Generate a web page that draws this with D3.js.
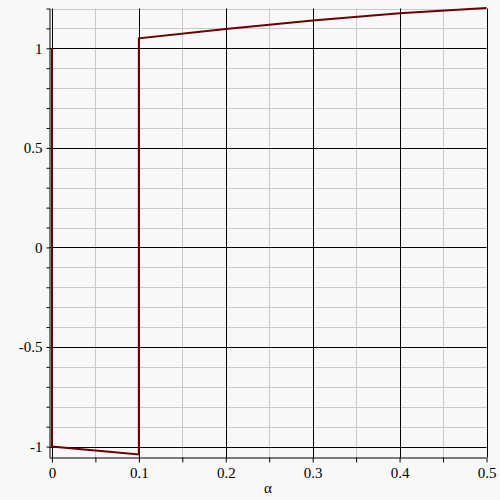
<!DOCTYPE html>
<html>
<head>
<meta charset="utf-8">
<script src="https://cdn.jsdelivr.net/npm/d3@7"></script>
<style>
  body { margin: 0; background: #f8f8f8; }
  svg text { font-family: "Liberation Serif", "Times New Roman", Times, "DejaVu Serif", serif !important; }
</style>
</head>
<body>
<svg id="chart" width="500" height="500"></svg>
<script>
// curve pieces
const alphaVals = [0, 0, 0.05, 0.1, 0.1, 0.2, 0.3, 0.4, 0.5];
const yVals = [1, -1, -1.02, -1.04, 1.05, 1.097, 1.14, 1.176, 1.203];

const xTicks = [0, 0.1, 0.2, 0.3, 0.4, 0.5];
const xTickLabels = ["0", "0.1", "0.2", "0.3", "0.4", "0.5"];
const yTicks = [-1, -0.5, 0, 0.5, 1];
const yTickLabels = ["-1", "-0.5", "0", "0.5", "1"];

const width = 500, height = 500;
const svg = d3.select("#chart");

const x = d3.scaleLinear().domain([-0.0028, 0.5]).range([49.5, 486.5]);
const y = d3.scaleLinear().domain([-1.055, 1.2]).range([457.5, 8.5]);

const x0 = x.range()[0], x1 = x.range()[1];
const yTop = y.range()[1], yBot = y.range()[0];

// minor grid
const xMinor = d3.range(0.05, 0.5, 0.1);
const yMinor = d3.range(-1, 1.21, 0.1).filter(v => Math.abs(Math.round(v * 2) - v * 2) > 1e-6);

svg.append("g").selectAll("line").data(xMinor).join("line")
  .attr("x1", d => Math.round(x(d)) + 0.5).attr("x2", d => Math.round(x(d)) + 0.5)
  .attr("y1", yTop).attr("y2", yBot)
  .attr("stroke", "#c8c8c8").attr("stroke-width", 1);

svg.append("g").selectAll("line").data(yMinor).join("line")
  .attr("x1", x0).attr("x2", x1)
  .attr("y1", d => Math.round(y(d)) + 0.5).attr("y2", d => Math.round(y(d)) + 0.5)
  .attr("stroke", "#c8c8c8").attr("stroke-width", 1);

// major grid
svg.append("g").selectAll("line").data(xTicks).join("line")
  .attr("x1", d => Math.round(x(d)) + 0.5).attr("x2", d => Math.round(x(d)) + 0.5)
  .attr("y1", yTop).attr("y2", yBot)
  .attr("stroke", "#000").attr("stroke-width", 1);

svg.append("g").selectAll("line").data(yTicks).join("line")
  .attr("x1", x0).attr("x2", x1)
  .attr("y1", d => Math.round(y(d)) + 0.5).attr("y2", d => Math.round(y(d)) + 0.5)
  .attr("stroke", "#000").attr("stroke-width", 1);

// axes
const xAxis = d3.axisBottom(x)
  .tickValues(d3.range(0, 0.51, 0.05))
  .tickSize(5)
  .tickFormat(d => {
    const i = xTicks.findIndex(t => Math.abs(t - d) < 1e-6);
    return i >= 0 ? xTickLabels[i] : "";
  });

const gx = svg.append("g").attr("transform", `translate(0,${yBot})`).call(xAxis)
  .attr("font-family", null);
gx.select(".domain").attr("d", `M${x0},0.5H${x1}`).attr("stroke", "#000");
gx.selectAll(".tick text").attr("font-size", 15).attr("fill", "#000").attr("dy", "0.85em");

const yAxis = d3.axisLeft(y)
  .tickValues(d3.range(-1, 1.21, 0.1))
  .tickSize(3)
  .tickFormat(d => {
    const i = yTicks.findIndex(t => Math.abs(t - d) < 1e-6);
    return i >= 0 ? yTickLabels[i] : "";
  });

const gy = svg.append("g").attr("transform", `translate(${x0},0)`).call(yAxis)
  .attr("font-family", null);
gy.select(".domain").attr("d", `M0.5,${yTop}V${yBot}`).attr("stroke", "#000");
gy.selectAll(".tick text").attr("font-size", 15).attr("fill", "#000").attr("x", -7)
  .attr("word-spacing", 2);

// curve
const pts = alphaVals.map((a, i) => [a, yVals[i]]);
svg.append("path")
  .datum(pts)
  .attr("fill", "none")
  .attr("stroke", "#6b0000")
  .attr("stroke-width", 2)
  .attr("d", d3.line().x(d => x(d[0])).y(d => y(d[1])));

// x label
svg.append("text")
  .attr("x", (x0 + x1) / 2)
  .attr("y", 493)
  .attr("text-anchor", "middle")
  .attr("font-size", 15)
  .text("α");
</script>
</body>
</html>
